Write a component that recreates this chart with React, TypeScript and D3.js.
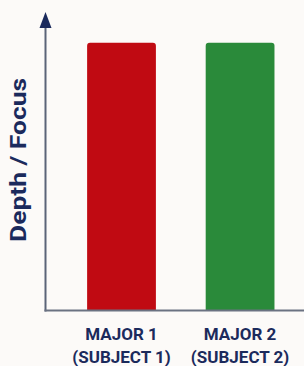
import React, { useEffect, useRef } from 'react';
import * as d3 from 'd3';

const majors = ['MAJOR 1', 'MAJOR 2'];
const subjects = ['(SUBJECT 1)', '(SUBJECT 2)'];
const depth = [90, 90];
const barColors = ['#c00a12', '#2a8a3a'];

const W = 304;
const H = 366;

export default function App() {
  const svgRef = useRef<SVGSVGElement>(null);

  useEffect(() => {
    const svg = d3.select(svgRef.current);
    svg.selectAll('*').remove();

    const axisX = 45.5;
    const baseY = 310.5;

    const x = d3.scaleBand<string>()
      .domain(majors)
      .range([axisX, W])
      .paddingInner(0.42)
      .paddingOuter(0.3)
      .align(0.585);

    const y = d3.scaleLinear()
      .domain([0, 100])
      .range([baseY, 13]);

    // background
    svg.append('rect')
      .attr('width', W)
      .attr('height', H)
      .attr('fill', '#fcfaf8');

    // bars, rounded only at the top
    const r = 3;
    majors.forEach((m, i) => {
      const x0 = x(m)!;
      const x1 = x0 + x.bandwidth();
      const top = y(depth[i]);
      const p = d3.path();
      p.moveTo(x0, baseY);
      p.lineTo(x0, top + r);
      p.arcTo(x0, top, x0 + r, top, r);
      p.lineTo(x1 - r, top);
      p.arcTo(x1, top, x1, top + r, r);
      p.lineTo(x1, baseY);
      p.closePath();
      svg.append('path')
        .attr('d', p.toString())
        .attr('fill', barColors[i]);
    });

    // axes
    svg.append('line')
      .attr('x1', axisX)
      .attr('x2', axisX)
      .attr('y1', 24)
      .attr('y2', baseY + 1)
      .attr('stroke', '#5b6478')
      .attr('stroke-width', 2);

    svg.append('line')
      .attr('x1', axisX - 1)
      .attr('x2', W)
      .attr('y1', baseY)
      .attr('y2', baseY)
      .attr('stroke', '#6b7282')
      .attr('stroke-width', 2);

    svg.append('path')
      .attr('d', `M${axisX},12 L${axisX - 6},28 L${axisX + 6},28 Z`)
      .attr('fill', '#1b2a5c');

    // axis title (a bit stretched along its length, like the original)
    svg.append('text')
      .attr('transform', `translate(26,160) rotate(-90) scale(1.2,1)`)
      .attr('text-anchor', 'middle')
      .attr('font-family', 'Roboto, Arial, sans-serif')
      .attr('font-weight', 700)
      .attr('font-size', 22)
      .attr('fill', '#1b2a5c')
      .text('Depth / Focus');

    // category labels
    const labels = svg.selectAll('g.label')
      .data(majors)
      .enter()
      .append('g')
      .attr('class', 'label')
      .attr('transform', d => `translate(${x(d)! + x.bandwidth() / 2},0)`)
      .attr('font-family', 'Roboto, Arial, sans-serif')
      .attr('font-weight', 700)
      .attr('font-size', 17)
      .attr('fill', '#1b2a5c')
      .attr('text-anchor', 'middle');

    labels.append('text')
      .attr('y', 340)
      .text(d => d);

    labels.append('text')
      .attr('y', 363)
      .text((d, i) => subjects[i]);
  }, []);

  return (
    <svg
      ref={svgRef}
      width={W}
      height={H}
      style={{ position: 'absolute', left: 0, top: 0, display: 'block' }}
    />
  );
}
